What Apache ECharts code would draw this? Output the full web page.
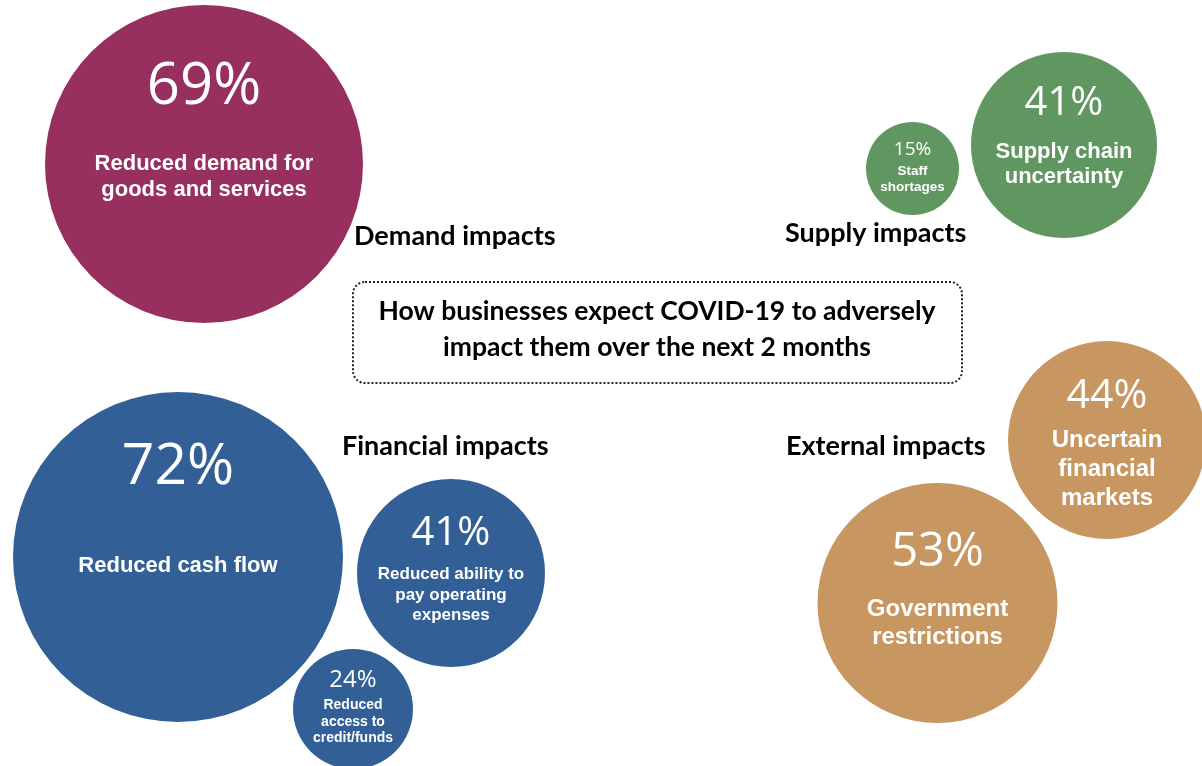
<!DOCTYPE html>
<html>
<head>
<meta charset="utf-8">
<script src="https://cdn.jsdelivr.net/npm/echarts@6/dist/echarts.min.js"></script>
<style>
html,body{margin:0;padding:0;background:#fff;}
#main{width:1202px;height:766px;}
</style>
</head>
<body>
<div id="main"></div>
<script>
// ---- data ----
const groups = ['Demand', 'Financial', 'Financial', 'Financial', 'Supply', 'Supply', 'External', 'External'];
const values = [69, 72, 41, 24, 15, 41, 44, 53];
const descriptions = [
  'Reduced demand for\ngoods and services',
  'Reduced cash flow',
  'Reduced ability to\npay operating\nexpenses',
  'Reduced\naccess to\ncredit/funds',
  'Staff\nshortages',
  'Supply chain\nuncertainty',
  'Uncertain\nfinancial\nmarkets',
  'Government\nrestrictions'
];
const sectionLabels = ['Demand impacts', 'Supply impacts', 'Financial impacts', 'External impacts'];
const titleLines = ['How businesses expect COVID-19 to adversely', 'impact them over the next 2 months'];

// ---- layout (packed-bubble positions in chart units) ----
const bubbleX = [204, 178, 451, 353, 912.5, 1064, 1107, 937.5];
const bubbleY = [164, 557, 573, 709, 168.5, 145, 440, 603];
const bubbleDiameter = [318, 330, 188, 120, 93, 186, 198, 240];
const sectionX = [354, 785, 342, 786];
const sectionY = [236, 233, 446, 446];

// ---- styles ----
const groupColors = { Demand: '#97305E', Financial: '#326096', Supply: '#609660', External: '#C89660' };
const pctFont = [58, 57, 40, 24, 19, 40, 41, 47];
const pctDy = [-77, -89, -39, -29, -18.5, -41, -44, -50];
const descFont = [22, 22, 17, 14, 13.5, 22, 24, 24];
const descLH = [26, 26, 20.5, 16.5, 16, 25, 29, 28];
const descDy = [13, 9, 22, 13, 10.5, 19, 29, 20];

const headFont = 'Lato, "Open Sans", sans-serif';

const bubbleData = values.map((v, i) => ({
  value: [bubbleX[i], bubbleY[i], v],
  symbolSize: bubbleDiameter[i],
  itemStyle: { color: groupColors[groups[i]], opacity: 1 },
  label: {
    show: true, position: 'inside', formatter: descriptions[i],
    offset: [0, descDy[i]], fontSize: descFont[i], lineHeight: descLH[i],
    fontFamily: '"Liberation Sans", Arial, sans-serif', fontWeight: 'bold', color: '#fff', align: 'center'
  }
}));
const pctData = values.map((v, i) => ({
  value: [bubbleX[i], bubbleY[i], v],
  itemStyle: { opacity: 1, color: 'rgba(0,0,0,0)' },
  label: {
    show: true, position: 'inside', formatter: v + '%',
    offset: [0, pctDy[i]], fontSize: pctFont[i],
    fontFamily: '"Open Sans", sans-serif', fontWeight: 'normal', color: '#fff', opacity: 1
  }
}));

const graphics = sectionLabels.map((t, i) => ({
  type: 'text', x: sectionX[i], y: sectionY[i],
  style: { text: t, font: 'bold 27px ' + headFont, fill: '#000', textAlign: 'left', textVerticalAlign: 'middle' }
}));
graphics.push({
  type: 'rect', shape: { x: 353, y: 282, width: 609, height: 101, r: 12 },
  style: { fill: 'none', stroke: '#222', lineWidth: 2, lineDash: [2, 2] }
});
titleLines.forEach((t, i) => graphics.push({
  type: 'text', x: 657, y: 311 + i * 36,
  style: { text: t, font: 'bold 26.5px ' + headFont, fill: '#000', textAlign: 'center', textVerticalAlign: 'middle' }
}));

const chart = echarts.init(document.getElementById('main'));
chart.setOption({
  animation: false,
  backgroundColor: '#fff',
  grid: { left: 0, right: 0, top: 0, bottom: 0 },
  xAxis: { type: 'value', min: 0, max: 1202, show: false },
  yAxis: { type: 'value', min: 0, max: 766, inverse: true, show: false },
  series: [
    { type: 'scatter', symbol: 'circle', data: bubbleData, silent: true, z: 2, itemStyle: { opacity: 1 } },
    { type: 'scatter', symbol: 'circle', symbolSize: 1, data: pctData, silent: true, z: 3, itemStyle: { opacity: 1 } }
  ],
  graphic: graphics
});
</script>
</body>
</html>
